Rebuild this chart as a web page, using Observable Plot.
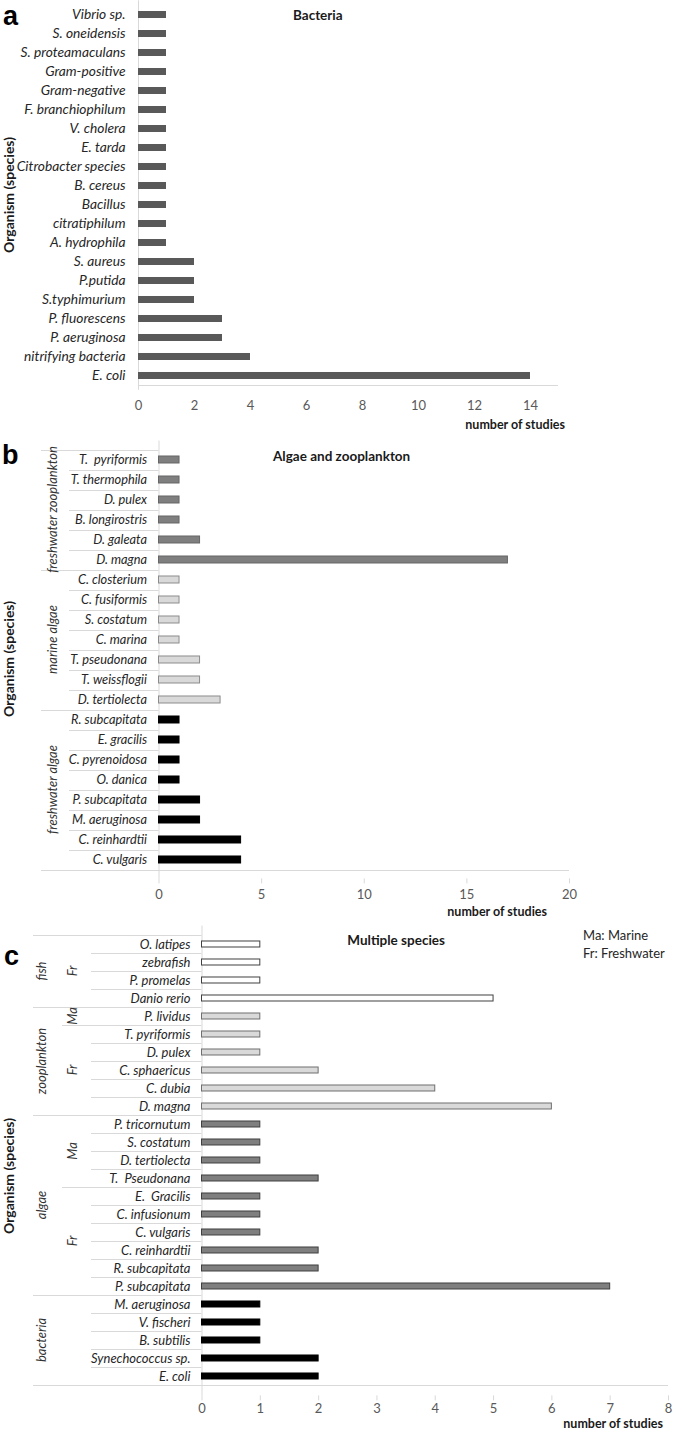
<!DOCTYPE html>
<html>
<head>
<meta charset="utf-8">
<script src="https://cdn.jsdelivr.net/npm/d3@7"></script>
<script src="https://cdn.jsdelivr.net/npm/@observablehq/plot@0.6"></script>
<style>
  body { margin: 0; background: #fff; }
  #wrap { position: relative; width: 685px; height: 1430px; overflow: hidden; font-family: Lato, "Open Sans", sans-serif; color: #262626; }
  .abs { position: absolute; white-space: nowrap; line-height: 16px; }
  .letter { font-family: "Liberation Sans", Arial, sans-serif; font-weight: bold; font-size: 27px; line-height: 30px; color: #000; }
  .title { font-weight: bold; font-size: 13.5px; color: #1a1a1a; }
  .xlab { font-weight: bold; font-size: 12.5px; color: #1a1a1a; line-height: 12px; }
  .legend { font-size: 13px; color: #262626; }
</style>
</head>
<body>
<div id="wrap"></div>
<script>
// ---------- DATA ----------
// Panel a: Bacteria
const bacteriaNames = ["Vibrio sp.", "S. oneidensis", "S. proteamaculans", "Gram-positive", "Gram-negative",
  "F. branchiophilum", "V. cholera", "E. tarda", "Citrobacter species", "B. cereus", "Bacillus",
  "citratiphilum", "A. hydrophila", "S. aureus", "P.putida", "S.typhimurium", "P. fluorescens",
  "P. aeruginosa", "nitrifying bacteria", "E. coli"];
const bacteriaCounts = [1, 1, 1, 1, 1, 1, 1, 1, 1, 1, 1, 1, 1, 2, 2, 2, 3, 3, 4, 14];
const bacteriaTicks = [0, 2, 4, 6, 8, 10, 12, 14];

// Panel b: Algae and zooplankton
const algaeNames = ["T.\u00a0 pyriformis", "T. thermophila", "D. pulex", "B. longirostris", "D. galeata", "D. magna",
  "C. closterium", "C. fusiformis", "S. costatum", "C. marina", "T. pseudonana", "T. weissflogii", "D. tertiolecta",
  "R. subcapitata", "E. gracilis", "C. pyrenoidosa", "O. danica", "P. subcapitata", "M. aeruginosa", "C. reinhardtii", "C. vulgaris"];
const algaeCounts = [1, 1, 1, 1, 2, 17, 1, 1, 1, 1, 2, 2, 3, 1, 1, 1, 1, 2, 2, 4, 4];
const algaeGroups = ["freshwater zooplankton", "freshwater zooplankton", "freshwater zooplankton", "freshwater zooplankton", "freshwater zooplankton", "freshwater zooplankton",
  "marine algae", "marine algae", "marine algae", "marine algae", "marine algae", "marine algae", "marine algae",
  "freshwater algae", "freshwater algae", "freshwater algae", "freshwater algae", "freshwater algae", "freshwater algae", "freshwater algae", "freshwater algae"];
const algaeTicks = [0, 5, 10, 15, 20];

// Panel c: Multiple species
const multiNames = ["O. latipes", "zebrafish", "P. promelas", "Danio rerio",
  "P. lividus", "T. pyriformis", "D. pulex", "C. sphaericus", "C. dubia", "D. magna",
  "P. tricornutum", "S. costatum", "D. tertiolecta", "T.\u00a0 Pseudonana",
  "E.\u00a0 Gracilis", "C. infusionum", "C. vulgaris", "C. reinhardtii", "R. subcapitata", "P. subcapitata",
  "M. aeruginosa", "V. fischeri", "B. subtilis", "Synechococcus sp.", "E. coli"];
const multiCounts = [1, 1, 1, 5, 1, 1, 1, 2, 4, 6, 1, 1, 1, 2, 1, 1, 1, 2, 2, 7, 1, 1, 1, 2, 2];
const multiGroups = ["fish", "fish", "fish", "fish",
  "zooplankton", "zooplankton", "zooplankton", "zooplankton", "zooplankton", "zooplankton",
  "algae", "algae", "algae", "algae", "algae", "algae", "algae", "algae", "algae", "algae",
  "bacteria", "bacteria", "bacteria", "bacteria", "bacteria"];
const multiHabitats = ["Fr", "Fr", "Fr", "Fr",
  "Ma", "Fr", "Fr", "Fr", "Fr", "Fr",
  "Ma", "Ma", "Ma", "Ma", "Fr", "Fr", "Fr", "Fr", "Fr", "Fr",
  "", "", "", "", ""];
const multiTicks = [0, 1, 2, 3, 4, 5, 6, 7, 8];

// ---------- DRAWING ----------
const wrap = document.getElementById("wrap");
const LINE = "#d9d9d9";

function addLabel(txt, x, y, cls, anchor) {
  const d = document.createElement("div");
  d.className = "abs " + cls;
  d.textContent = txt;
  const lh = cls.includes("letter") ? 30 : (cls.includes("xlab") ? 12 : 16);
  d.style.top = (y - lh / 2) + "px";
  if (anchor === "end") d.style.right = (685 - x) + "px";
  else if (anchor === "middle") { d.style.left = x + "px"; d.style.transform = "translateX(-50%)"; }
  else d.style.left = x + "px";
  wrap.appendChild(d);
}

function drawPanel(cfg) {
  const rows = cfg.names.map((name, i) => ({
    name, count: cfg.counts[i],
    group: cfg.groups ? cfg.groups[i] : "all",
    habitat: cfg.habitats ? cfg.habitats[i] : ""
  }));
  const groupOrder = Array.from(new Set(rows.map(d => d.group)));
  const marks = [Plot.ruleX([0], {stroke: LINE, strokeWidth: 1})];
  for (const g of groupOrder) {
    const st = cfg.colors[g];
    const opts = {x: "count", y: "name", fill: st.fill};
    if (st.stroke) { opts.stroke = st.stroke; opts.strokeWidth = 1; }
    marks.push(Plot.barX(rows.filter(d => d.group === g), opts));
  }
  const height = cfg.marginTop + cfg.frameH + cfg.marginBottom;
  const plot = Plot.plot({
    width: 685,
    height,
    marginTop: cfg.marginTop,
    marginBottom: cfg.marginBottom,
    marginLeft: cfg.marginLeft,
    marginRight: 685 - cfg.xRight,
    style: {fontFamily: "Lato, 'Open Sans', sans-serif", fontSize: "13px", color: "#595959", background: "transparent", overflow: "visible"},
    x: {domain: cfg.xDomain, ticks: cfg.xTicks, tickSize: cfg.tickSize, tickPadding: cfg.tickPadding, label: null},
    y: {domain: cfg.names, tickSize: 0, tickPadding: cfg.labelPad, paddingInner: cfg.pad, paddingOuter: cfg.pad / 2, label: null},
    marks
  });
  plot.style.position = "absolute";
  plot.style.left = "0px";
  plot.style.top = cfg.top + "px";
  wrap.appendChild(plot);

  // style category labels
  const nameSet = new Set(cfg.names);
  plot.querySelectorAll("text").forEach(t => {
    if (nameSet.has(t.textContent)) {
      t.setAttribute("font-style", "italic");
      t.setAttribute("fill", "#262626");
      t.style.fontStyle = "italic";
      t.style.fontSize = cfg.labelSize;
    }
  });
  // x tick marks light grey
  plot.querySelectorAll('[aria-label^="x-axis"] line, [aria-label^="x-axis"] path').forEach(el => {
    el.setAttribute("stroke", LINE);
    el.style.stroke = LINE;
  });

  // band geometry from Plot's y scale
  const ys = plot.scale("y");
  const band = d3.scaleBand().domain(ys.domain).range(ys.range)
    .paddingInner(ys.paddingInner ?? cfg.pad).paddingOuter(ys.paddingOuter ?? cfg.pad / 2).align(ys.align ?? 0.5);
  const yOf = (typeof ys.apply === "function") ? (v => ys.apply(v)) : (v => band(v));
  const bw = ys.bandwidth ?? band.bandwidth();
  const centers = cfg.names.map(n => yOf(n) + bw / 2);
  const step = centers.length > 1 ? centers[1] - centers[0] : band.step();
  const top = centers[0] - step / 2;
  const bottom = centers[centers.length - 1] + step / 2;
  const xs = plot.scale("x");
  const xRight = (typeof xs.apply === "function") ? xs.apply(cfg.xDomain[1]) : cfg.xRight;
  const xZero = (typeof xs.apply === "function") ? xs.apply(0) : cfg.marginLeft;

  const svg = d3.select(plot);
  const lg = svg.append("g").attr("stroke", LINE).attr("stroke-width", 1).attr("fill", "none");
  const hline = (x1, x2, y) => {
    const yy = Math.round(y) + 0.5;
    lg.append("line").attr("x1", x1).attr("x2", x2).attr("y1", yy).attr("y2", yy);
  };

  if (cfg.groups) {
    hline(cfg.groupLineX, xZero, top);
    for (let i = 1; i < rows.length; i++) {
      const yb = (centers[i - 1] + centers[i]) / 2;
      let x1 = cfg.rowLineX;
      if (rows[i].group !== rows[i - 1].group) x1 = cfg.groupLineX;
      else if (cfg.habitats && rows[i].habitat !== rows[i - 1].habitat) x1 = cfg.habLineX;
      hline(x1, xZero, yb);
    }
    hline(cfg.groupLineX, xRight, bottom);

    const tg = svg.append("g").attr("font-style", "italic").attr("fill", "#333")
      .attr("font-size", "13px").attr("text-anchor", "middle");
    const groupKey = d => d.group;
    const runs = (key) => {
      const out = [];
      rows.forEach((d, i) => {
        const k = key(d);
        const last = out[out.length - 1];
        if (last && last.k === k) last.end = i; else out.push({k, start: i, end: i, label: key === groupKey ? d.group : d.habitat});
      });
      return out;
    };
    for (const r of runs(groupKey)) {
      const yc = (centers[r.start] + centers[r.end]) / 2;
      tg.append("text").attr("transform", `translate(${cfg.groupLabelX},${yc}) rotate(-90)`)
        .attr("dy", "0.35em").text(r.label);
    }
    if (cfg.habitats) {
      for (const r of runs(d => d.group + "|" + d.habitat)) {
        if (!r.label) continue;
        const yc = (centers[r.start] + centers[r.end]) / 2;
        tg.append("text").attr("transform", `translate(${cfg.habLabelX},${yc}) rotate(-90)`)
          .attr("dy", "0.35em").text(r.label);
      }
    }
  } else {
    hline(xZero, xRight, bottom);
  }

  // y-axis title
  svg.append("text").attr("transform", `translate(9,${cfg.yTitleY}) rotate(-90)`)
    .attr("text-anchor", "middle").attr("dy", "0.35em")
    .attr("font-weight", "bold").attr("font-size", "14px").attr("fill", "#1a1a1a")
    .text("Organism (species)");
}

// Panel a
drawPanel({
  names: bacteriaNames, counts: bacteriaCounts,
  colors: {all: {fill: "#595959"}},
  xDomain: [0, 15], xTicks: bacteriaTicks,
  top: 0, marginTop: 0.3, frameH: 389.5, marginBottom: 32,
  marginLeft: 138, xRight: 558, pad: 0.62, labelPad: 13, labelSize: "13.8px",
  tickSize: 0, tickPadding: 10, yTitleY: 195
});
// Panel b
drawPanel({
  names: algaeNames, counts: algaeCounts, groups: algaeGroups,
  colors: {
    "freshwater zooplankton": {fill: "#7f7f7f", stroke: "#666666"},
    "marine algae": {fill: "#d9d9d9", stroke: "#8c8c8c"},
    "freshwater algae": {fill: "#000000", stroke: "#000000"}
  },
  xDomain: [0, 20], xTicks: algaeTicks,
  top: 430, marginTop: 10.6, frameH: 437.8, marginBottom: 34,
  marginLeft: 158.5, xRight: 569, pad: 0.66, labelPad: 12, labelSize: "12.8px",
  tickSize: 5, tickPadding: 6,
  rowLineX: 69, groupLineX: 41, groupLabelX: 52, yTitleY: 229
});
// Panel c
drawPanel({
  names: multiNames, counts: multiCounts, groups: multiGroups, habitats: multiHabitats,
  colors: {
    fish: {fill: "#ffffff", stroke: "#404040"},
    zooplankton: {fill: "#d9d9d9", stroke: "#6f6f6f"},
    algae: {fill: "#7f7f7f", stroke: "#404040"},
    bacteria: {fill: "#000000", stroke: "#000000"}
  },
  xDomain: [0, 8], xTicks: multiTicks,
  top: 915, marginTop: 10.6, frameH: 469.8, marginBottom: 34,
  marginLeft: 201.5, xRight: 668, pad: 0.66, labelPad: 11.5, labelSize: "13px",
  tickSize: 5, tickPadding: 3,
  rowLineX: 91, habLineX: 62, groupLineX: 33, groupLabelX: 41, habLabelX: 72, yTitleY: 261
});

// Panel letters, titles, axis labels, legend
addLabel("a", 3, 16, "letter");
addLabel("b", 2, 455, "letter");
addLabel("c", 4, 956, "letter");
addLabel("Bacteria", 293, 15, "title");
addLabel("Algae and zooplankton", 273, 456, "title");
addLabel("Multiple species", 445, 940, "title", "end");
addLabel("number of studies", 565, 425, "xlab", "end");
addLabel("number of studies", 547, 912, "xlab", "end");
addLabel("number of studies", 663, 1423.5, "xlab", "end");
addLabel("Ma: Marine", 583, 935, "legend");
addLabel("Fr: Freshwater", 583, 953, "legend");
</script>
</body>
</html>
